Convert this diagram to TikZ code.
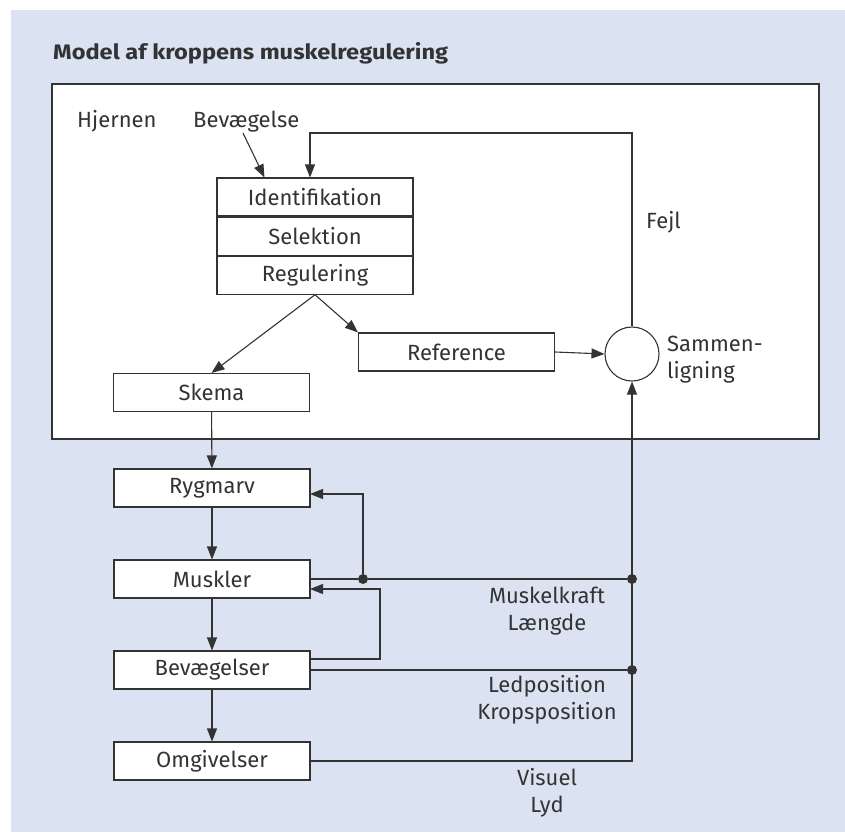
\documentclass[tikz,border=0pt]{standalone}
\usepackage{fontspec}
\setmainfont{Fira Sans}
\usetikzlibrary{arrows.meta,positioning}

\definecolor{bgblue}{RGB}{219,227,242}
\definecolor{ink}{RGB}{51,51,51}

\tikzset{
  box/.style={draw=ink, fill=white, line width=1.1pt, minimum width=196pt, minimum height=38pt,
    inner sep=0pt, text=ink, font=\fontsize{22}{27}\selectfont},
  lbl/.style={text=ink, align=center, inner sep=0pt, font=\fontsize{22}{27}\selectfont},
  link/.style={draw=ink, line width=1.1pt},
  arr/.style={link, -{Triangle[length=13pt,width=10pt]}},
  dot/.style={circle, fill=ink, inner sep=0pt, minimum size=10pt},
}

\begin{document}
\begin{tikzpicture}[x=1pt,y=-1pt]
  \useasboundingbox (0,0) rectangle (845,832);
  \fill[bgblue] (11,10) rectangle (845,832);

  \node[anchor=base west, inner sep=0pt, text=ink] (title) at (53,60)
    {\resizebox{395pt}{\height}{\fontsize{21}{24}\selectfont\bfseries Model af kroppens muskelregulering}};

  % hjernen
  \draw[ink, line width=1.6pt, fill=white] (52,84) rectangle (819,439);
  \node[lbl, anchor=base west] (hjernen) at (77,128) {Hjernen};
  \node[lbl, anchor=base west] (bevlbl) at (193,128) {Bevægelse};

  \node[box] (ident) at (315,197) {Identifikation};
  \node[box, below=0pt of ident] (sel) {Selektion};
  \node[box, below=0pt of sel] (reg) {Regulering};

  \node[box] (ref) at (456.5,352) {Reference};
  \node[draw=ink, line width=1.1pt, circle, minimum size=54pt, inner sep=0pt] (cmp) at (632,354) {};
  \node[lbl, anchor=west, align=left] (cmplbl) at (667,360) {Sammen-\\ligning};
  \node[lbl, anchor=west] (fejl) at (646,222) {Fejl};

  \node[box] (skema) at (211.5,392.5) {Skema};

  % rygmarv og krop
  \node[box] (ryg) at (212,488) {Rygmarv};
  \node[box] (musk) at (212,579) {Muskler};
  \node[box] (bev) at (212,670) {Bevægelser};
  \node[box] (omg) at (212,761) {Omgivelser};

  \node[dot] (d1) at (363,579) {};
  \node[dot] (d2) at (632,579) {};
  \node[dot] (d3) at (632,670) {};

  \node[lbl] (kraft) at (547,611) {Muskelkraft\\Længde};
  \node[lbl] (pos) at (547,700) {Ledposition\\Kropsposition};
  \node[lbl] (sans) at (547,793) {Visuel\\Lyd};

  \coordinate (bevfrom) at (243,133);
  \coordinate (fejlknee) at (310,133);
  \coordinate (bevin) at ([xshift=48pt]ident.north west);
  \coordinate (rygin) at (310,494);
  \coordinate (bevout) at (310,659);
  \coordinate (muskin) at (310,589);

  \draw[arr] (bevfrom) -- (bevin);
  \draw[arr] (cmp.north) |- (fejlknee) -- (fejlknee |- ident.north);
  \draw[arr] (reg.south) -- (skema.north);
  \draw[arr] (reg.south) -- (ref.north west);
  \draw[arr] (ref.east) -- (cmp.west);

  \draw[arr] (skema) -- (ryg);
  \draw[arr] (ryg) -- (musk);
  \draw[arr] (musk) -- (bev);
  \draw[arr] (bev) -- (omg);

  \draw[link] (musk.east) -- (d1) -- (d2);
  \draw[arr] (d1) |- (rygin);
  \draw[arr] (bevout) -| (380,589) -- (muskin);
  \draw[link] (bev.east) -- (d3);
  \draw[arr] (omg.east) -| (cmp.south);
\end{tikzpicture}
\end{document}
